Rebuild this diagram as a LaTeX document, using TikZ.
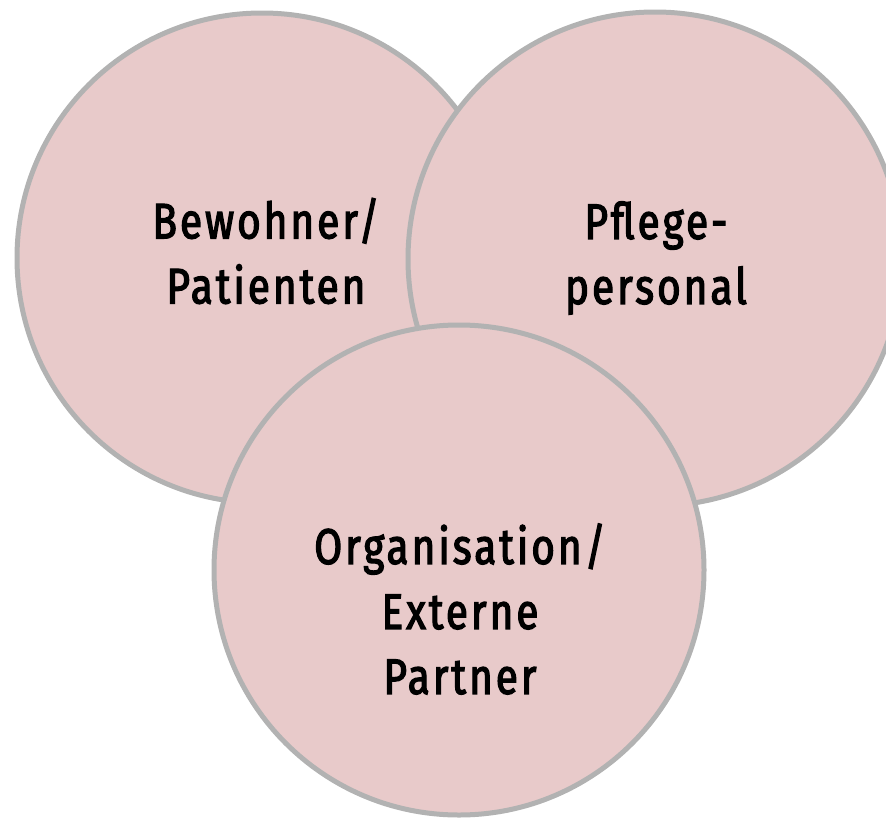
\documentclass[tikz,border=0pt]{standalone}
\usepackage{fontspec}
\setmainfont[FakeStretch=0.81,FakeBold=2.5,LetterSpace=6]{Fira Sans}
\definecolor{circfill}{RGB}{232,202,202}
\definecolor{circline}{RGB}{178,178,178}
\begin{document}
\begin{tikzpicture}[x=1pt,y=-1pt,
  bubble/.style={circle,fill=circfill,draw=circline,line width=5pt,inner sep=0pt},
  lbl/.style={align=center,text=black,font=\fontsize{50}{65}\selectfont,inner sep=0pt}]
\useasboundingbox (0,0) rectangle (886,819);
\node[bubble,minimum size=490pt] (cl) at (262,258) {};
\node[bubble,minimum size=494pt] (cr) at (655,259) {};
\node[bubble,minimum size=490pt] (cb) at (459,570) {};
\node[lbl] (tl) at (266,251) {Bewohner/\\Patienten};
\node[lbl] (tr) at (656,258) {Pflege-\\personal};
\node[lbl] (tb) at (460,609) {Organisation/\\Externe\\Partner};
\end{tikzpicture}
\end{document}
